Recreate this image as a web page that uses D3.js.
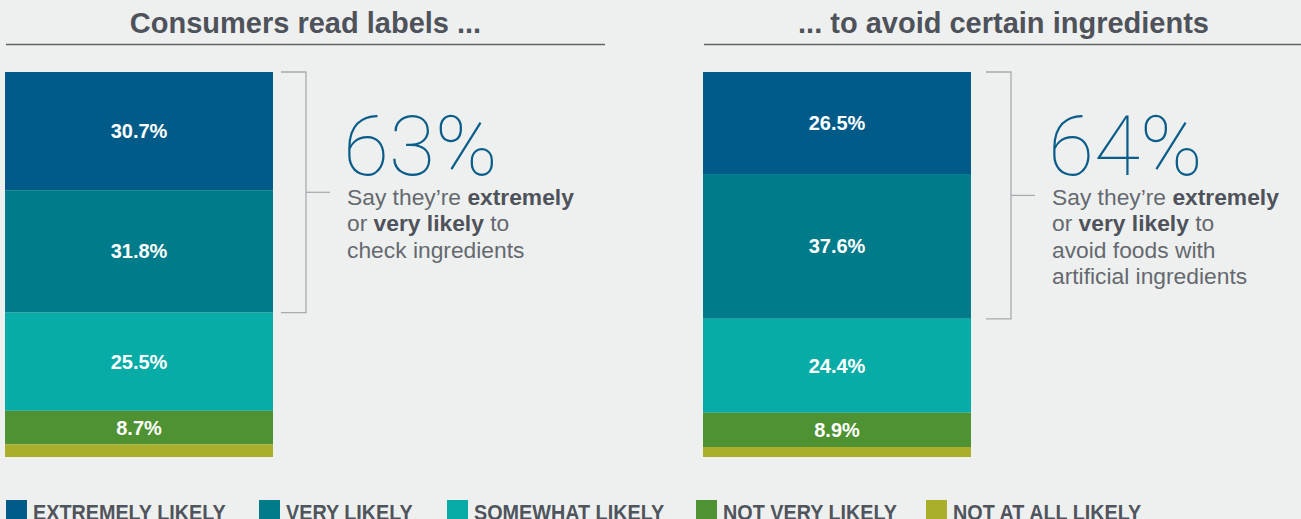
<!DOCTYPE html>
<html><head><meta charset="utf-8">
<script src="https://cdn.jsdelivr.net/npm/d3@7"></script>
<style>
html,body{margin:0;padding:0;background:#eef0ef;}
svg{display:block;font-family:"Liberation Sans",Arial,Helvetica,sans-serif;}
</style></head>
<body><svg id="chart" width="1301" height="519"></svg>
<script>
const categories = ["EXTREMELY LIKELY","VERY LIKELY","SOMEWHAT LIKELY","NOT VERY LIKELY","NOT AT ALL LIKELY"];
const panels = ["labels","avoid"];
const panelTitles = ["Consumers read labels ...","... to avoid certain ingredients"];
const readLabelsValues = [30.7, 31.8, 25.5, 8.7, 3.3];
const avoidValues = [26.5, 37.6, 24.4, 8.9, 2.6];
const bigNumbers = ["63%","64%"];
const descriptions = [
  [[["Say they\u2019re ",false],["extremely",true]],[["or ",false],["very likely",true],[" to",false]],[["check ingredients",false]]],
  [[["Say they\u2019re ",false],["extremely",true]],[["or ",false],["very likely",true],[" to",false]],[["avoid foods with",false]],[["artificial ingredients",false]]]
];
const colors = ["#005b88","#007b89","#07aca7","#4f9234","#a9ae2b"];

const svg = d3.select("#chart");
const seriesByPanel = [readLabelsValues, avoidValues];
const x = d3.scalePoint().domain(panels).range([5, 703]);
const barW = 268;
const bracketGap = [33, 40];
const y = d3.scaleLinear().domain([0, 100]).range([72, 457]);
const color = d3.scaleOrdinal().domain(categories).range(colors);

panels.forEach((p, pi) => {
  const vals = seriesByPanel[pi];
  const x0 = x(p);
  const g = svg.append("g");
  // title
  const lineX0 = x0 + 1, lineX1 = x0 + 600;
  g.append("text").attr("x", (lineX0 + lineX1) / 2).attr("y", 33)
    .attr("text-anchor", "middle").attr("font-size", 29).attr("font-weight", "bold")
    .attr("fill", "#4e525a").text(panelTitles[pi]);
  g.append("line").attr("x1", lineX0).attr("x2", lineX1).attr("y1", 44.5).attr("y2", 44.5)
    .attr("stroke", "#5f6368").attr("stroke-width", 1.3);
  // stacked segments
  let cum = 0;
  const segs = vals.map((v, i) => { const s = {cat: categories[i], v, y0: cum, y1: cum + v}; cum += v; return s; });
  g.selectAll("rect").data(segs).join("rect")
    .attr("x", x0).attr("width", barW)
    .attr("y", d => y(d.y0)).attr("height", d => y(d.y1) - y(d.y0))
    .attr("fill", d => color(d.cat));
  g.selectAll("text.lbl").data(segs.filter(d => d.v > 5)).join("text").attr("class", "lbl")
    .attr("x", x0 + barW / 2).attr("y", d => (y(d.y0) + y(d.y1)) / 2 + 7)
    .attr("text-anchor", "middle").attr("font-size", 20).attr("font-weight", "bold")
    .attr("fill", "#ffffff").text(d => d.v.toFixed(1) + "%");
  // bracket around top two
  const bx = x0 + barW + bracketGap[pi];
  const bTop = y(segs[0].y0), bBot = y(segs[1].y1), bMid = (bTop + bBot) / 2;
  const bc = "#a8abb0";
  g.append("path").attr("d", `M${bx-25},${bTop}H${bx}V${bBot}H${bx-25}`)
    .attr("fill", "none").attr("stroke", bc).attr("stroke-width", 1.3);
  g.append("line").attr("x1", bx).attr("x2", bx + 24).attr("y1", bMid).attr("y2", bMid)
    .attr("stroke", bc).attr("stroke-width", 1.3);
  // big number
  const tx = bx + 41;
  g.append("text").attr("x", tx - 4).attr("y", 175).attr("font-size", 84)
    .attr("font-family", "Roboto,'Open Sans',sans-serif").attr("font-weight", 100)
    .attr("fill", "#0a5c89").text(bigNumbers[pi]);
  descriptions[pi].forEach((line, li) => {
    const t = g.append("text").attr("x", tx).attr("y", 205 + li * 26.3).attr("font-size", 22.8);
    line.forEach(([s, b]) => {
      t.append("tspan").attr("font-weight", b ? "bold" : "normal")
        .attr("fill", b ? "#4e525a" : "#65696f").text(s);
    });
  });
});

// legend
const legendX = [6, 259, 447, 696, 926];
const lg = svg.append("g");
categories.forEach((c, i) => {
  lg.append("rect").attr("x", legendX[i]).attr("y", 500).attr("width", 21).attr("height", 21).attr("fill", color(c));
  lg.append("text").attr("transform", `translate(${legendX[i] + 27},520) scale(0.9,1)`)
    .attr("font-size", 22).attr("font-weight", "bold").attr("fill", "#50545c").text(c);
});
</script></body></html>
